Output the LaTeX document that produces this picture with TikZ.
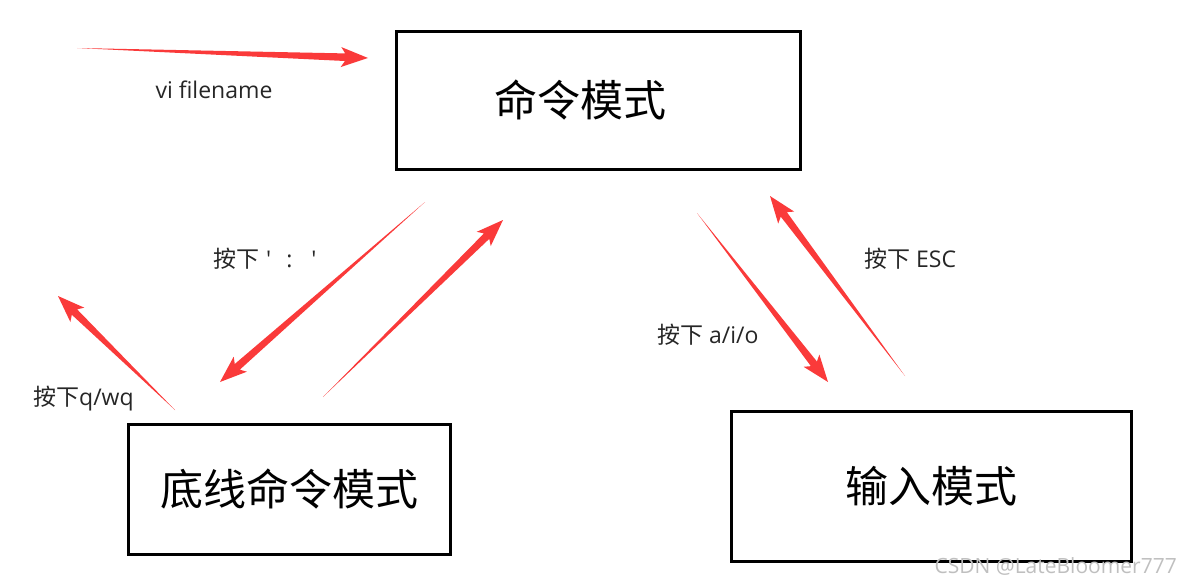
\documentclass[tikz,border=0pt]{standalone}
\usepackage{fontspec}
\usepackage{tikz}
\usetikzlibrary{calc}
\setmainfont[Ligatures=TeXOff]{Open Sans}
\newfontfamily\cjk[Ligatures=TeXOff]{Noto Sans CJK SC}
\definecolor{arrowred}{RGB}{250,58,58}
\newcommand\taperarrow[2]{%
	\coordinate (hb) at ($(#2)!23pt!(#1)$);
	\coordinate (hw) at ($(#2)!27pt!(#1)$);
	\fill[arrowred] (#1) -- ($(hb)!3.8pt!90:(#2)$) -- ($(hw)!10pt!90:(#2)$) -- (#2) -- ($(hw)!10pt!-90:(#2)$) -- ($(hb)!3.8pt!-90:(#2)$) -- cycle;}

\begin{document}
\begin{tikzpicture}[x=1pt, y=-1pt,
	modebox/.style={draw, line width=3.2pt, inner sep=0pt, font=\fontsize{43}{50}\selectfont\cjk},
	keylabel/.style={inner sep=0pt, text=black!85, font=\fontsize{23}{27}\selectfont}]
	\useasboundingbox (0,0) rectangle (1181,586);
	\node[modebox, minimum width=404pt, minimum height=138pt] (cmd) at (598.5,100.5) {命令模式\hspace*{36pt}};
	\node[modebox, minimum width=322pt, minimum height=130pt] (bot) at (289.5,489.5) {底线命令模式};
	\node[modebox, minimum width=400pt, minimum height=150pt] (ins) at (931.5,486.5) {输入模式};
	\coordinate (vi-s) at (77,48);   \coordinate (vi-e) at (368,58);
	\coordinate (col-s) at (425,202); \coordinate (col-e) at (220,382);
	\coordinate (back-s) at (323,397); \coordinate (back-e) at (503,220);
	\coordinate (quit-s) at (175,410); \coordinate (quit-e) at (58,296);
	\coordinate (aio-s) at (697,213); \coordinate (aio-e) at (828,382);
	\coordinate (esc-s) at (905,376); \coordinate (esc-e) at (770,196);
	\taperarrow{vi-s}{vi-e}
	\taperarrow{col-s}{col-e}
	\taperarrow{back-s}{back-e}
	\taperarrow{quit-s}{quit-e}
	\taperarrow{aio-s}{aio-e}
	\taperarrow{esc-s}{esc-e}
	\node[keylabel] (lvi) at (214,90) {vi filename};
	\node[keylabel, anchor=west] (lcol) at (213,259) {{\cjk 按下}\hspace{7pt}'\hspace{15pt}:\hspace{19pt}'};
	\node[keylabel, anchor=west] (lquit) at (33,399) {{\cjk 按下}q/wq};
	\node[keylabel, anchor=west] (laio) at (657,335) {{\cjk 按下} a/i/o};
	\node[keylabel, anchor=west] (lesc) at (864,259) {{\cjk 按下} ESC};
	\node[inner sep=0pt, anchor=east, text=black!25, font=\fontsize{21}{25}\selectfont] (mark) at (1177,566) {CSDN @LateBloomer777};
\end{tikzpicture}
\end{document}
